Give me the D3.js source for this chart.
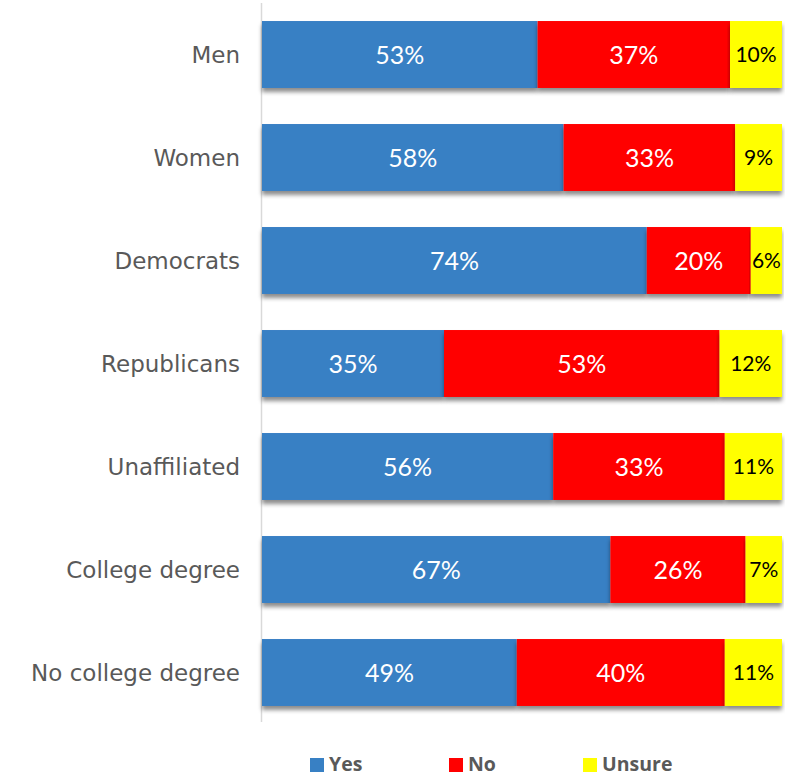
<!DOCTYPE html>
<html><head><meta charset="utf-8">
<script src="https://cdn.jsdelivr.net/npm/d3@7"></script>
<style>body{margin:0;background:#fff}</style>
</head><body>
<svg id="c" width="800" height="774"></svg>
<script>
const categories = ["Men","Women","Democrats","Republicans","Unaffiliated","College degree","No college degree"];
const yes = [53,58,74,35,56,67,49];
const no = [37,33,20,53,33,26,40];
const unsure = [10,9,6,12,11,7,11];
const seriesNames = ["Yes","No","Unsure"];
const colors = ["#3880c4","#ff0000","#ffff00"];

const svg = d3.select("#c");
const defs = svg.append("defs");
const f = defs.append("filter").attr("id","sh").attr("x","-5%").attr("y","-10%").attr("width","110%").attr("height","130%");
f.append("feDropShadow").attr("dx",0).attr("dy",4).attr("stdDeviation",2).attr("flood-color","#000").attr("flood-opacity",0.45);

const x = d3.scaleLinear().domain([0,100]).range([262,782]);
const y = d3.scaleBand().domain(categories).range([3,724]).paddingInner(0.35).paddingOuter(0.175);

const rows = categories.map((c,i)=>({cat:c, Yes:yes[i], No:no[i], Unsure:unsure[i]}));
const stack = d3.stack().keys(seriesNames)(rows);

svg.append("line").attr("x1",261.5).attr("x2",261.5).attr("y1",3).attr("y2",722).attr("stroke","#d9d9d9").attr("stroke-width",1.5);

stack.forEach((s,si)=>{
  const g = svg.append("g");
  g.selectAll("rect").data(s).join("rect")
    .attr("x",d=>x(d[0])).attr("width",d=>x(d[1])-x(d[0]))
    .attr("y",d=>y(d.data.cat)).attr("height",y.bandwidth())
    .attr("fill",colors[si]).attr("filter","url(#sh)");
});
stack.forEach((s,si)=>{
  svg.append("g").selectAll("text").data(s).join("text")
    .attr("x",d=>(x(d[0])+x(d[1]))/2)
    .attr("y",d=>y(d.data.cat)+y.bandwidth()/2)
    .attr("dy","0.36em")
    .attr("text-anchor","middle")
    .attr("font-family","Lato")
    .attr("font-size", si===2?21:25)
    .attr("fill", si===2?"#000":"#fff")
    .text(d=>(d[1]-d[0])+"%");
});

svg.append("g").selectAll("text").data(categories).join("text")
  .attr("x",240).attr("y",d=>y(d)+y.bandwidth()/2).attr("dy","0.36em")
  .attr("text-anchor","end").attr("font-family","DejaVu Sans").attr("font-size",23)
  .attr("fill","#595959").text(d=>d);

const legX = [310,449,583];
const lg = svg.append("g");
seriesNames.forEach((n,i)=>{
  lg.append("rect").attr("x",legX[i]).attr("y",758).attr("width",14).attr("height",14).attr("fill",colors[i]);
  lg.append("text").attr("x",legX[i]+19).attr("y",771).attr("font-family","Open Sans").attr("font-weight","bold")
    .attr("font-size",19.5).attr("fill","#595959").text(n);
});
</script>
</body></html>
